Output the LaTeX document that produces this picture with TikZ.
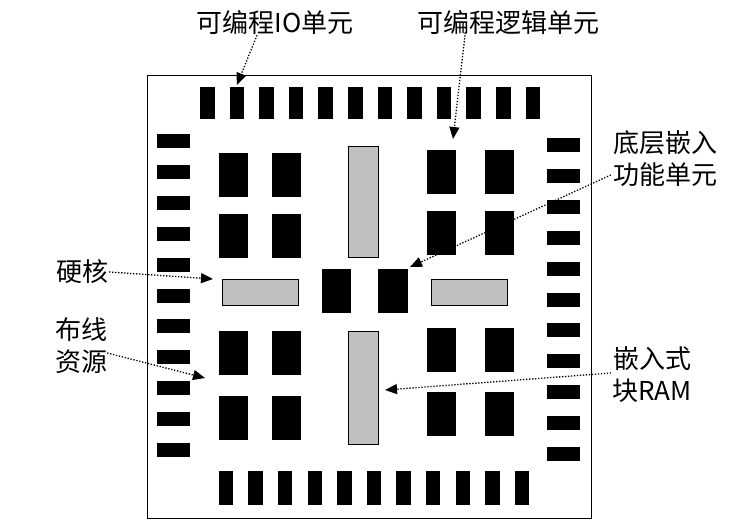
\documentclass[tikz,border=0pt]{standalone}
\usepackage{fontspec}
\newfontfamily\cjk{Noto Sans CJK SC}
\usetikzlibrary{arrows.meta}
\definecolor{coregray}{RGB}{192,192,192}

\begin{document}
\begin{tikzpicture}[x=1pt, y=-1pt,
    blk/.style={fill=black, inner sep=0pt, outer sep=0pt},
    gblk/.style={fill=coregray, draw=black, line width=0.8pt, inner sep=0pt, outer sep=0pt},
    lbl/.style={font=\cjk\fontsize{26pt}{32pt}\selectfont, align=center, inner sep=0pt},
    arr/.style={dash pattern=on 1.3pt off 1.7pt, line width=1.3pt, -{Triangle[length=12pt,width=10pt]}}]
    \useasboundingbox (0,0) rectangle (746,524);

    % Chip outline
    \draw[line width=1pt] (147,76) rectangle (591,518);

    % IO cells, top and bottom rows
    \foreach \i in {1,...,12}
        \node[blk, minimum width=14.5pt, minimum height=32pt] (iot\i) at ({207.25+29.6*(\i-1)},103) {};
    \foreach \i in {1,...,11}
        \node[blk, minimum width=14.5pt, minimum height=34pt] (iob\i) at ({226+29.6*(\i-1)},488) {};

    % IO cells, left and right columns
    \foreach \i in {1,...,11} {
        \node[blk, minimum width=33pt, minimum height=14pt] (iol\i) at (173.5,{141+30.9*(\i-1)}) {};
        \node[blk, minimum width=33pt, minimum height=14pt] (ior\i) at (563.5,{145+30.9*(\i-1)}) {};
    }

    % Logic blocks
    \foreach \c/\x in {1/233.5, 2/286}
        \foreach \r/\y in {1/175, 2/235.5, 3/353, 4/417.5}
            \node[blk, minimum width=29pt, minimum height=44pt] (l\r\c) at (\x,\y) {};
    \foreach \c/\x in {1/441, 2/499}
        \foreach \r/\y in {1/172, 2/232.5, 3/349.5, 4/414}
            \node[blk, minimum width=29pt, minimum height=44pt] (r\r\c) at (\x,\y) {};

    % Embedded function blocks in the centre
    \node[blk, minimum width=29pt, minimum height=44pt] (cL) at (336.5,291) {};
    \node[blk, minimum width=30pt, minimum height=44pt] (cR) at (393,291) {};

    % Hard cores and block RAM
    \node[gblk, minimum width=76pt, minimum height=26pt] (hL) at (260,292) {};
    \node[gblk, minimum width=76pt, minimum height=26pt] (hR) at (469,292) {};
    \node[gblk, minimum width=30pt, minimum height=111pt] (vT) at (363,201.5) {};
    \node[gblk, minimum width=30pt, minimum height=113pt] (vB) at (363,387.5) {};

    % Labels
    \node[lbl] (lblIO) at (275,23) {可编程IO单元};
    \node[lbl] (lblLogic) at (508,23) {可编程逻辑单元};
    \node[lbl] (lblDSP) at (665,159) {底层嵌入\\功能单元};
    \node[lbl] (lblHard) at (82,272) {硬核};
    \node[lbl] (lblRoute) at (81,346) {布线\\资源};
    \node[lbl] (lblRAM) at (652,375) {嵌入式\\块RAM};

    % Pointers
    \draw[arr] ([xshift=-18pt]lblIO.south) -- ([yshift=2pt]iot2.north);
    \draw[arr] ([xshift=-43pt]lblLogic.south) -- ([xshift=12pt,yshift=11pt]r11.north);
    \draw[arr] ([xshift=-2pt,yshift=-16pt]lblDSP.west) -- ([shift={(2pt,2pt)}]cR.north east);
    \draw[arr] ([xshift=1pt]lblHard.east) -- ([xshift=-9pt]hL.north west);
    \draw[arr] ([yshift=-7pt]lblRoute.east) -- ([shift={(-14pt,-3pt)}]l31.south west);
    \draw[arr] ([xshift=-1pt,yshift=2pt]lblRAM.west) -- ([xshift=7pt,yshift=-2.5pt]vB.east);

\end{tikzpicture}
\end{document}
